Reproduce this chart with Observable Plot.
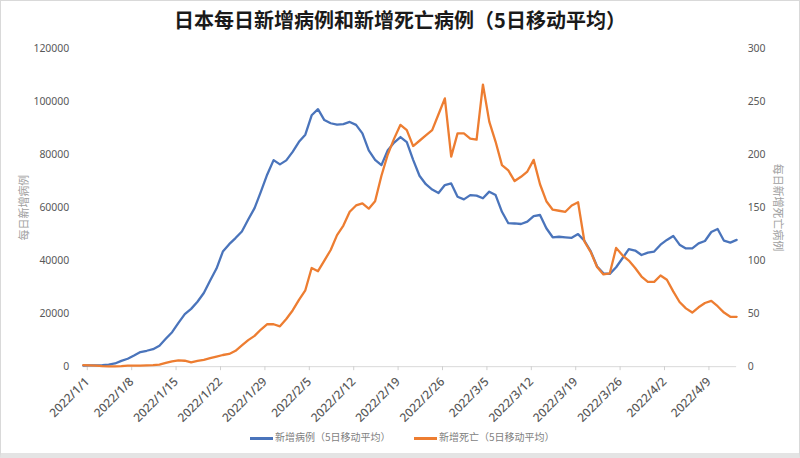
<!DOCTYPE html>
<html><head><meta charset="utf-8">
<script src="https://cdn.jsdelivr.net/npm/d3@7"></script>
<script src="https://cdn.jsdelivr.net/npm/@observablehq/plot@0.6"></script>
<style>
body{margin:0;background:#fff;}
#wrap{width:800px;height:458px;box-sizing:border-box;border:1px solid #d9d9d9;border-bottom:5px solid #e4e4e4;position:relative;overflow:hidden;font-family:"Noto Sans CJK SC","Noto Sans",sans-serif;background:#fff;}
#title{height:36px;line-height:38px;text-align:center;font-size:20px;font-weight:bold;color:#1a1a1a;letter-spacing:0px;}
#chart{height:380px;}
#legend{height:35px;position:relative;font-size:10px;color:#7f7f7f;}
.sw{position:absolute;top:20px;width:23px;height:3px;}
.lt{position:absolute;top:13px;line-height:14px;white-space:nowrap;}
</style></head>
<body>
<div id="wrap">
  <div id="title">日本每日新增病例和新增死亡病例（5日移动平均）</div>
  <div id="chart"></div>
  <div id="legend">
    <div class="sw" style="left:249px;background:#4a74bb"></div>
    <div class="lt" style="left:274px">新增病例（5日移动平均）</div>
    <div class="sw" style="left:413px;background:#ED7D31"></div>
    <div class="lt" style="left:438px">新增死亡（5日移动平均）</div>
  </div>
</div>
<script>
const startDate = "2022-01-01";
// 5-day moving average of new cases, one value per day from 2022/1/1
const cases = [
  400,500,500,600,800,1200,2200,3000,4200,5500,
  6000,6600,7900,10500,13000,16500,19800,21800,24500,27800,
  32500,37000,43400,46200,48500,51000,55500,59800,66000,72500,
  77900,76300,77800,81000,84800,87500,94800,97100,93000,91800,
  91300,91500,92300,91200,88000,81600,78000,76000,81600,84500,
  86600,84700,78000,72000,68800,66800,65500,68500,69100,64100,
  63100,64700,64500,63500,66000,64700,58400,54100,54000,53800,
  54700,56800,57200,52200,48800,49000,48800,48600,50000,47500,
  43500,37800,35200,35000,37500,40900,44300,43800,42100,43000,
  43400,46000,47800,49300,46000,44600,44600,46500,47400,50800,
  51900,47500,46800,47800
];
// 5-day moving average of new deaths
const deaths = [
  1.5,1.2,1,0.5,0.2,0.2,0.5,1,1,1,
  1.2,1.5,2,3.5,5,6,5.6,4,5.5,6.5,
  8,9.5,11,12,15,20,25,29,35,40,
  40,38,45,53,63,72,93,90,100,110,
  124,133,146,152,154,149,156,180,200,215,
  228,223,208,213,218,223,238,253,198,220,
  220,215,214,266,231,212,190,185,175,179,
  184,195,172,156,148,147,146,152,155,118,
  108,94,87,88,112,105,100,93,85,80,
  80,86,82,71,61,55,51,56,60,62,
  57,51,47,47
];
const xTickLabels = ["2022/1/1","2022/1/8","2022/1/15","2022/1/22","2022/1/29","2022/2/5","2022/2/12","2022/2/19","2022/2/26","2022/3/5","2022/3/12","2022/3/19","2022/3/26","2022/4/2","2022/4/9"];
const leftTicks = [0,20000,40000,60000,80000,100000,120000];
const rightTicks = [0,50,100,150,200,250,300];
const ratio = 120000 / 300;

const start = new Date(startDate + "T00:00:00Z");
const data = cases.map((c, i) => ({date: d3.utcDay.offset(start, i), cases: c, deaths: deaths[i]}));
const parse = s => { const [y,m,d] = s.split("/").map(Number); return new Date(Date.UTC(y, m-1, d)); };
const fmt = d => `${d.getUTCFullYear()}/${d.getUTCMonth()+1}/${d.getUTCDate()}`;
const tickDates = xTickLabels.map(parse);

const chart = Plot.plot({
  width: 800, height: 380,
  marginTop: 11, marginBottom: 50, marginLeft: 82, marginRight: 63,
  style: {fontFamily: '"Noto Sans","Noto Sans CJK SC",sans-serif', fontSize: "10.5px", color: "#595959", background: "#fff", overflow: "visible"},
  x: {type: "utc", domain: [start, data[data.length-1].date]},
  y: {domain: [0, 120000]},
  marks: [
    Plot.ruleY([0], {stroke: "#d9d9d9", strokeWidth: 1}),
    Plot.axisX({ticks: tickDates, tickFormat: fmt, tickRotate: -45, tickSize: 4, tickPadding: 9, dx: 4, stroke: "#d0d0d0", fill: "#595959", fontSize: 12, fontWeight: 500, label: null}),
    Plot.axisY(leftTicks, {anchor: "left", tickSize: 0, tickPadding: 14, tickFormat: d => String(d), fill: "#595959", label: null}),
    Plot.axisY(rightTicks.map(v => v * ratio), {anchor: "right", tickSize: 0, tickPadding: 11, tickFormat: d => String(Math.round(d / ratio)), fill: "#595959", textAnchor: "start", label: null}),
    Plot.text(["每日新增病例"], {frameAnchor: "left", dx: -59, rotate: -90, textAnchor: "middle", fill: "#a0a0a0", fontSize: 11, fontFamily: '"Noto Sans CJK SC",sans-serif'}),
    Plot.text(["每日新增死亡病例"], {frameAnchor: "right", dx: 41, rotate: 90, textAnchor: "middle", fill: "#a0a0a0", fontSize: 11, fontFamily: '"Noto Sans CJK SC",sans-serif'}),
    Plot.line(data, {x: "date", y: "cases", stroke: "#4a74bb", strokeWidth: 2.3, strokeLinejoin: "round"}),
    Plot.line(data, {x: "date", y: d => d.deaths * ratio, stroke: "#ED7D31", strokeWidth: 2.3, strokeLinejoin: "round"})
  ]
});
document.getElementById("chart").appendChild(chart);
</script>
</body></html>
